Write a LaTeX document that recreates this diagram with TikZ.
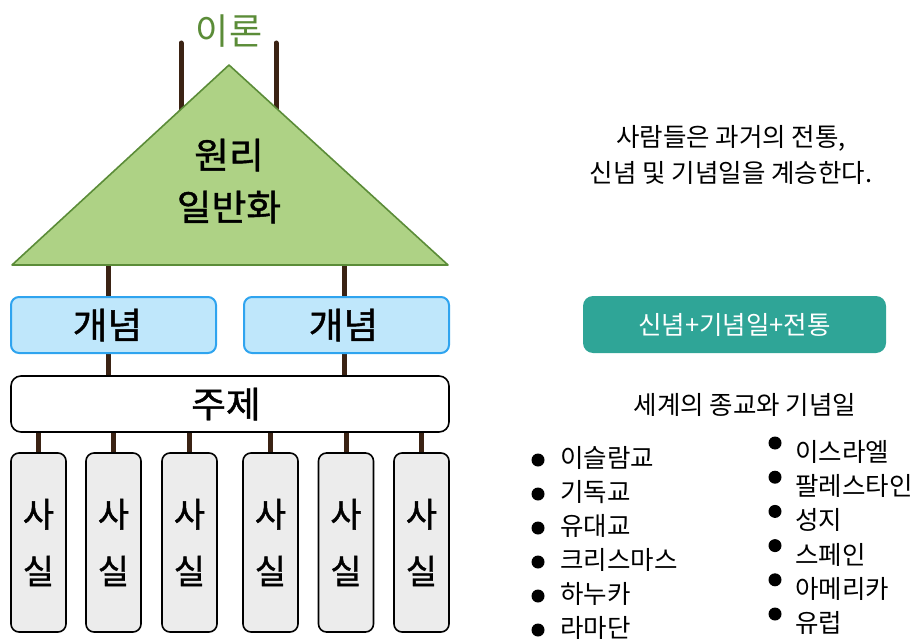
\documentclass[tikz,border=0pt]{standalone}
\usepackage{fontspec}
\setmainfont{Noto Sans CJK KR}
\newfontfamily\krmid[FakeBold=1.2]{Noto Sans CJK KR}
\newfontfamily\krwide[FakeBold=1.2,FakeStretch=1.05]{Noto Sans CJK KR}
\usepackage{xcolor}
\usepackage{tikz}
\usetikzlibrary{positioning, backgrounds}

\definecolor{leafgreen}{RGB}{174,210,133}
\definecolor{leafline}{RGB}{91,140,56}
\definecolor{postbrown}{RGB}{59,35,20}
\definecolor{skyfill}{RGB}{191,231,251}
\definecolor{skyline}{RGB}{47,164,239}
\definecolor{factgray}{RGB}{236,236,236}
\definecolor{tealfill}{RGB}{47,165,151}

\begin{document}
\begin{tikzpicture}[
    x=1pt, y=-1pt,
    tri/.style={draw=leafline, fill=leafgreen, line width=1.6pt, line join=round},
    post/.style={draw=postbrown, line width=5pt, line cap=round},
    link/.style={draw=postbrown, line width=5pt},
    bigtext/.style={align=center, font=\krwide\fontsize{36}{52}\selectfont},
    conceptbox/.style={rectangle, rounded corners=8pt, draw=skyline, fill=skyfill, line width=2pt, minimum width=205pt, minimum height=56pt, font=\krwide\fontsize{36}{36}\selectfont},
    themebox/.style={rectangle, rounded corners=10pt, draw=black, fill=white, line width=1.6pt, minimum width=438pt, minimum height=56pt, font=\krwide\fontsize{36}{36}\selectfont},
    factbox/.style={rectangle, rounded corners=8pt, draw=black, fill=factgray, line width=1.6pt, minimum width=55pt, minimum height=179pt, align=center, font=\krmid\fontsize{34}{57}\selectfont},
    tealbox/.style={rectangle, rounded corners=10pt, fill=tealfill, text=white, minimum width=303pt, minimum height=57pt, font=\fontsize{25.5}{25.5}\selectfont},
    note/.style={align=center, font=\fontsize{25.5}{36}\selectfont},
    item/.style={anchor=west, inner sep=0pt, font=\fontsize{25.5}{25.5}\selectfont}
]
\useasboundingbox (0,0) rectangle (916,642);

% Theory posts and triangle
\node[text=leafline, font=\fontsize{36}{36}\selectfont] (theory) at (229,31) {이론};
\coordinate (postL) at (181,43);
\coordinate (postR) at (276,43);
\draw[post] (postL) -- ++(0,80);
\draw[post] (postR) -- ++(0,80);
\coordinate (apex) at (229,65);
\coordinate (baseL) at (12,265);
\coordinate (baseR) at (448,265);
\draw[tri] (apex) -- (baseR) -- (baseL) -- cycle;
\node[bigtext] (principle) at (229,181) {원리\\일반화};

% Concepts and theme
\node[conceptbox] (conceptL) at (113.5,325) {개념\hspace*{12pt}};
\node[conceptbox] (conceptR) at (346.5,325) {개념\hspace*{6pt}};
\node[themebox] (theme) at (230,404) {주제\hspace*{8pt}};

% Facts
\foreach \i/\x in {1/38.5, 2/113.5, 3/189.5, 4/270.5, 5/346, 6/421.5}
    \node[factbox] (fact\i) at (\x,542.5) {사\\실};

% Links
\begin{scope}[on background layer]
\draw[link] ([xshift=-5.5pt]conceptL.north) -- ([xshift=-5.5pt]conceptL.north |- baseL);
\draw[link] ([xshift=-2.5pt]conceptR.north) -- ([xshift=-2.5pt]conceptR.north |- baseR);
\draw[link] ([xshift=-5.5pt]conceptL.south) -- ([xshift=-5.5pt]conceptL.south |- theme.north);
\draw[link] ([xshift=-2.5pt]conceptR.south) -- ([xshift=-2.5pt]conceptR.south |- theme.north);
\foreach \i in {1,...,6}
    \draw[link] (fact\i.north) -- (fact\i.north |- theme.south);
\end{scope}

% Right side
\node[note] (legacy) at (731,155) {사람들은 과거의 전통,\\신념 및 기념일을 계승한다.};
\node[tealbox] (blend) at (734.5,324.5) {신념+기념일+전통};
\node[note] (listtitle) at (745,405) {세계의 종교와 기념일};

% Bullet lists
\foreach \name [count=\i] in {이슬람교, 기독교, 유대교, 크리스마스, 하누카, 라마단} {
    \node[item] (faith\i) at (560,424+34*\i) {\name};
    \fill ([xshift=-22pt,yshift=-2pt]faith\i.west) circle (6.5pt);
}
\foreach \name [count=\i] in {이스라엘, 팔레스타인, 성지, 스페인, 아메리카, 유럽} {
    \node[item] (place\i) at (795,417.8+34.2*\i) {\name};
    \fill ([xshift=-20pt,yshift=9pt]place\i.west) circle (6.5pt);
}

\end{tikzpicture}
\end{document}
